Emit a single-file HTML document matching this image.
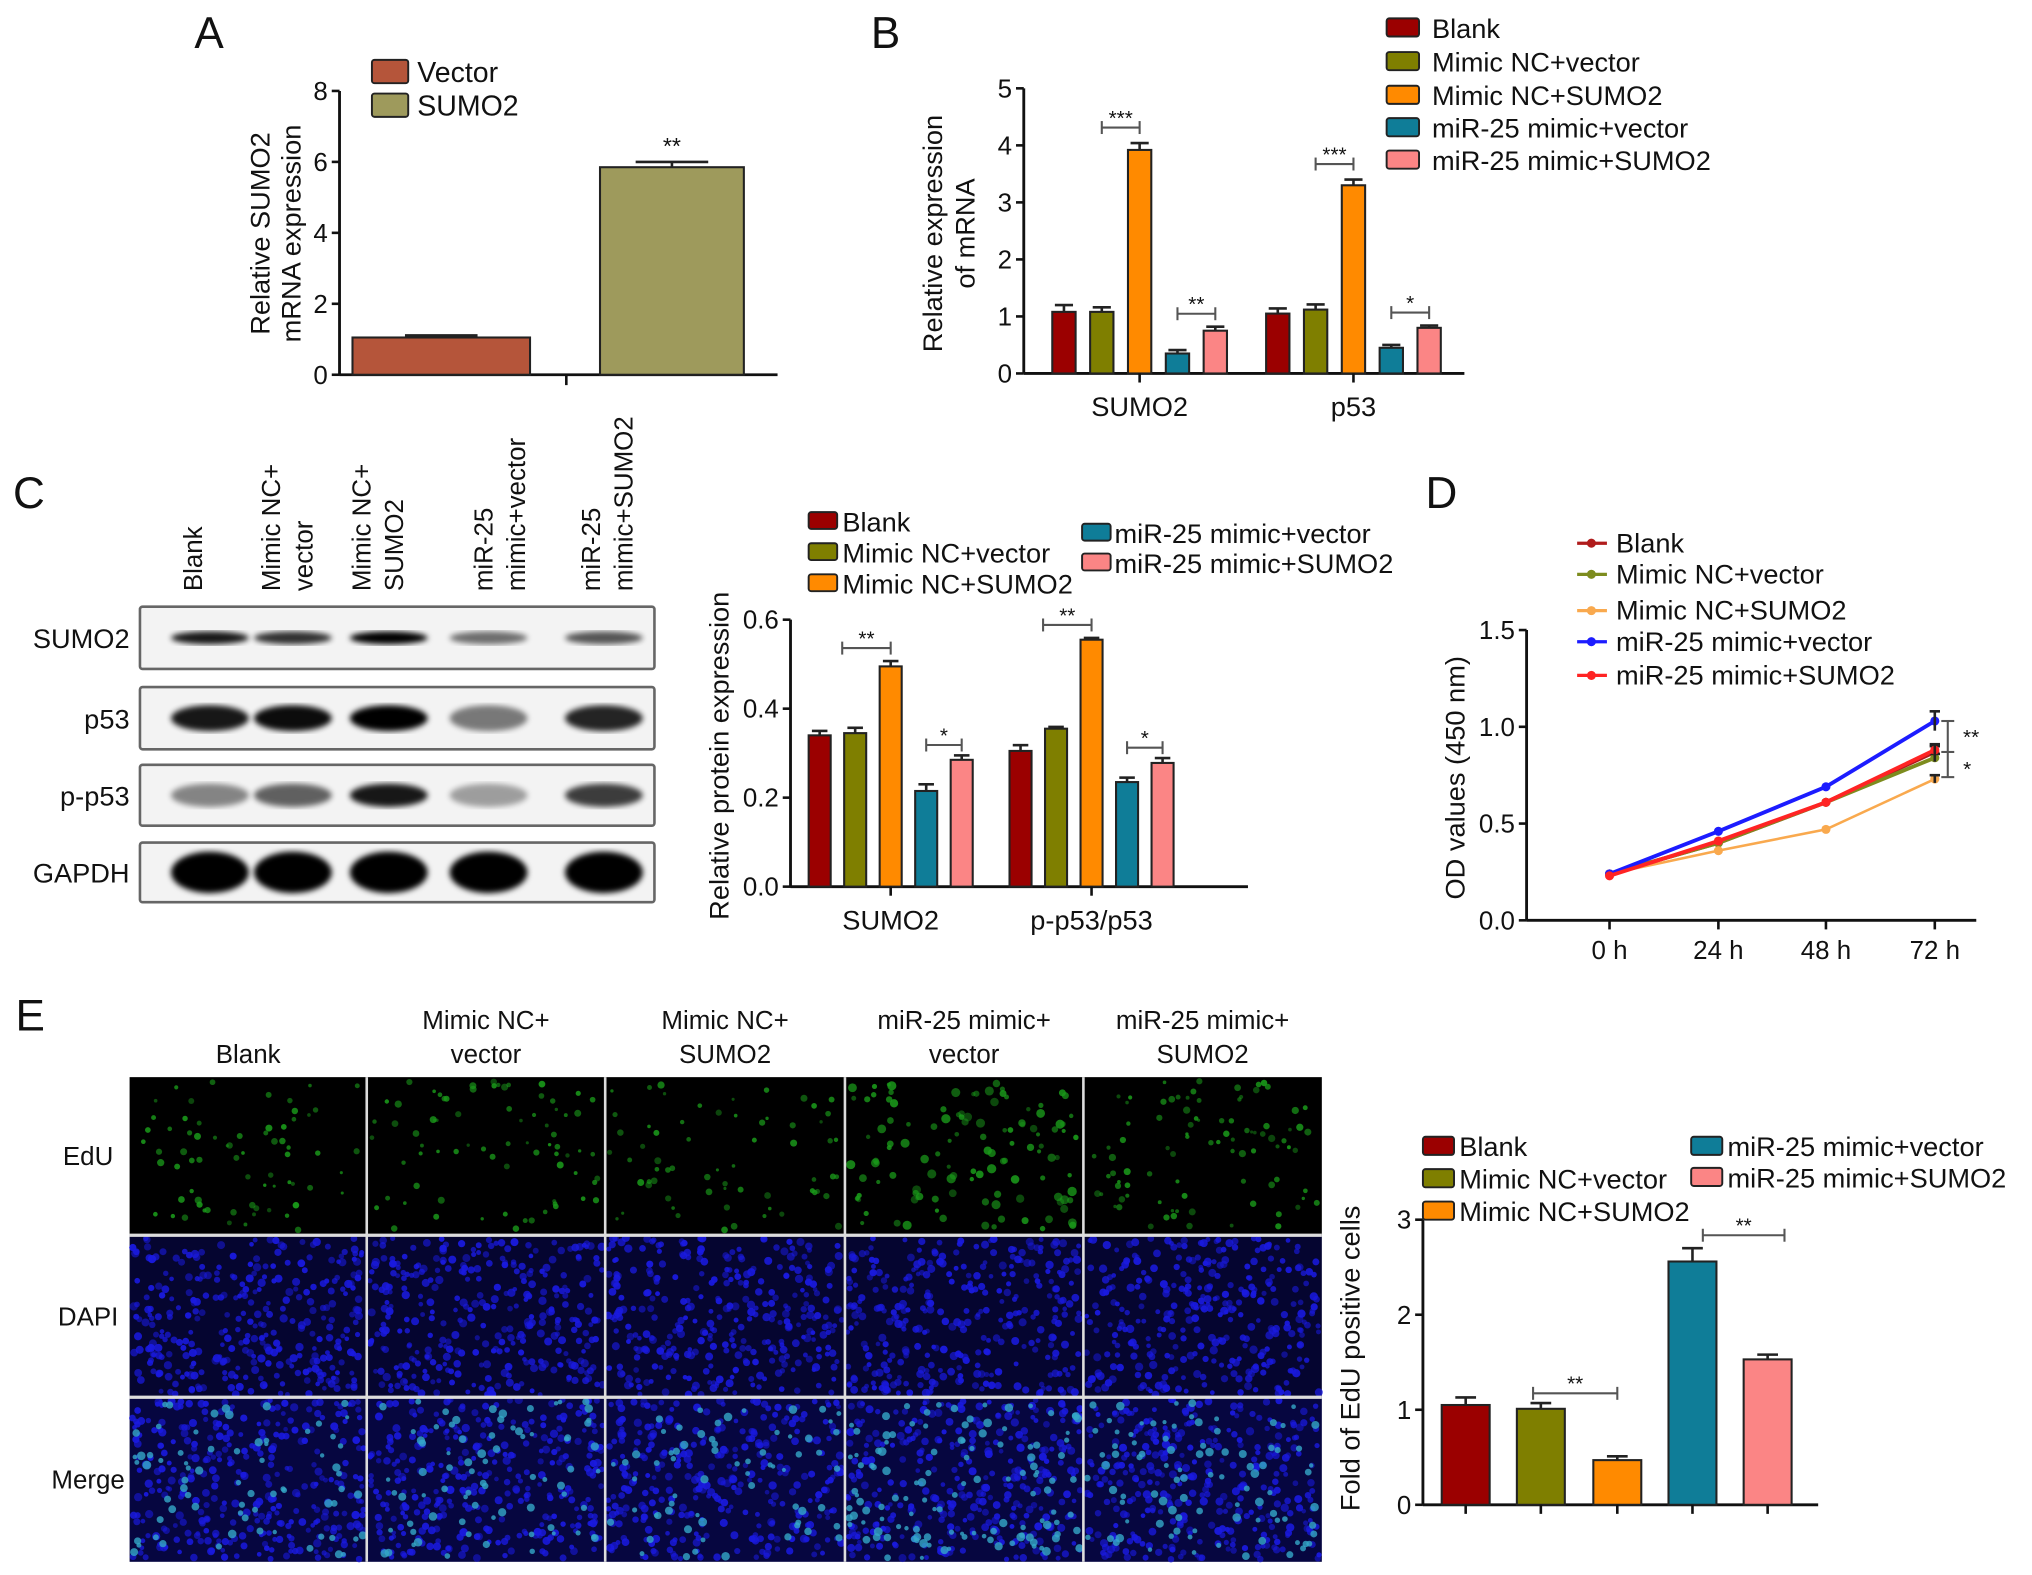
<!DOCTYPE html>
<html><head><meta charset="utf-8">
<style>
html,body{margin:0;padding:0;background:#fff;}
svg{display:block;}
text{font-family:"Liberation Sans",sans-serif;fill:#111;}
.n{font-family:"Liberation Sans Narrow","Liberation Sans",sans-serif;}
</style></head>
<body>
<svg id="fig" width="2032" height="1575" viewBox="0 0 1568 1215" xmlns="http://www.w3.org/2000/svg">
<g id="root"></g>
</svg>
<script>
// ---------- Data ----------
const groupsCommon = ['Blank','Mimic NC+vector','Mimic NC+SUMO2','miR-25 mimic+vector','miR-25 mimic+SUMO2'];
const barColors = ['#9b0000','#7f7f00','#ff8a00','#0f7d98','#fb8585'];

const aCats = ['Vector','SUMO2'];
const aVals = [1.05, 5.85];
const aErr = [0.06, 0.15];
const aTicks = [0,2,4,6,8];

const bCats = ['SUMO2','p53'];
const bSumo2 = [1.08, 1.08, 3.92, 0.35, 0.75];
const bP53 = [1.05, 1.12, 3.30, 0.45, 0.80];
const bErrS = [0.12, 0.08, 0.12, 0.06, 0.07];
const bErrP = [0.09, 0.09, 0.10, 0.05, 0.04];
const bTicks = [0,1,2,3,4,5];

const cCats = ['SUMO2','p-p53/p53'];
const cSumo2 = [0.340, 0.345, 0.495, 0.215, 0.285];
const cPp53 = [0.305, 0.355, 0.555, 0.235, 0.278];
const cErrS = [0.010, 0.012, 0.012, 0.015, 0.010];
const cErrP = [0.013, 0.004, 0.004, 0.010, 0.011];
const cTicks = [0.0,0.2,0.4,0.6];

const dTimes = ['0 h','24 h','48 h','72 h'];
const dBlank = [0.24, 0.40, 0.61, 0.87];
const dNCvec = [0.24, 0.40, 0.61, 0.84];
const dNCsumo = [0.24, 0.36, 0.47, 0.73];
const dMirVec = [0.24, 0.46, 0.69, 1.03];
const dMirSumo = [0.23, 0.41, 0.61, 0.88];
const dErr72 = [0.03, 0.02, 0.02, 0.05, 0.03];
const dTicks = [0.0,0.5,1.0,1.5];
const lineColors = ['#b01c1c','#7d8c1e','#f9a94e','#1c1cff','#ff2424'];

const eVals = [1.05, 1.01, 0.47, 2.56, 1.53];
const eErr = [0.08, 0.06, 0.04, 0.14, 0.05];
const eTicks = [0,1,2,3];

// ---------- Helpers ----------
const NS='http://www.w3.org/2000/svg';
const root=document.getElementById('root');
function mk(tag, attrs, parent){
  const el=document.createElementNS(NS,tag);
  for(const k in attrs) el.setAttribute(k,attrs[k]);
  (parent||root).appendChild(el);
  return el;
}
function txt(s,x,y,size,anchor,name,extra){
  const t=mk('text',Object.assign({x:x,y:y,'font-size':size,'text-anchor':anchor||'start'},extra||{}));
  t.textContent=s;
  
  
  return t;
}
function line(x1,y1,x2,y2,w,c,name){
  const l=mk('line',{x1:x1,y1:y1,x2:x2,y2:y2,stroke:c||'#111','stroke-width':w||2});
  
  
  return l;
}
function yAxis(x,y0,y1,vmax,ticks,fmt,size,name){
  const s=v=>y0-(v/vmax)*(y0-y1);
  line(x,y0,x,y1,2.2,'#111',name+'-y-axis');
  ticks.forEach(t=>{
    line(x-6,s(t),x,s(t),2,'#111',name+'-y-tick');
    txt(fmt(t),x-9,s(t)+7,size,'end',name+'-y-tick-label',{class:'n'});
  });
  return s;
}
function bar(x,w,y0,yv,c,name){
  const r=mk('rect',{x:x,y:yv,width:w,height:y0-yv,fill:c,stroke:'#222','stroke-width':1.6});
  
  
  return r;
}
function errbar(cx,yv,ye,hw,name){
  line(cx,yv,cx,ye,2,'#222',name);
  line(cx-hw,ye,cx+hw,ye,2,'#222',name+'-cap');
}
function sig(x1,x2,y,label,name){
  line(x1,y,x2,y,1.6,'#555',name+'-bracket');
  line(x1,y-5,x1,y+5,1.6,'#555',name+'-bracket-end');
  line(x2,y-5,x2,y+5,1.6,'#555',name+'-bracket-end');
  txt(label,(x1+x2)/2,y-2,16,'middle',name+'-stars',{fill:'#666'});
}
function swatch(x,y,w,h,c,name){
  const r=mk('rect',{x:x,y:y,width:w,height:h,fill:c,stroke:'#222','stroke-width':1.5,rx:2});
  
  
}
function letter(s,x,y){ txt(s,x,y,34,'start','panel-label-'+s); }

// ---------- Panel A ----------
letter('A',150,37);
(function(){
  const y0=289,y1=70,ax=262;
  const s=yAxis(ax,y0,y1,8,aTicks,v=>String(v),20,'panel-a');
  line(ax,y0,600,y0,2.2,'#111','panel-a-x-axis');
  line(437,y0,437,y0+8,2,'#111','panel-a-x-tick');
  const xs=[272,463], ws=[137,111], cols=['#b5553a','#9e9a5c'];
  aVals.forEach((v,i)=>{
    bar(xs[i],ws[i],y0,s(v),cols[i],'panel-a-bar-'+aCats[i].toLowerCase());
    errbar(xs[i]+ws[i]/2,s(v),s(v+aErr[i]),28,'panel-a-error-bar');
  });
  txt('**',xs[1]+ws[1]/2,s(aVals[1]+aErr[1])-6,18,'middle','panel-a-sig',{fill:'#777'});
  swatch(287,46,28,18,cols[0],'panel-a-legend-swatch-vector');
  txt('Vector',322,63,22,'start','panel-a-legend-vector',{class:'n'});
  swatch(287,72,28,18,cols[1],'panel-a-legend-swatch-sumo2');
  txt('SUMO2',322,89,22,'start','panel-a-legend-sumo2',{class:'n'});
  txt('Relative SUMO2',208,180,21,'middle','panel-a-y-title',{transform:'rotate(-90 208 180)'});
  txt('mRNA expression',232,180,21,'middle','panel-a-y-title-2',{transform:'rotate(-90 232 180)'});
})();

// ---------- Panel B ----------
letter('B',672,37);
(function(){
  const y0=288,y1=68,ax=790;
  const s=yAxis(ax,y0,y1,5,bTicks,v=>String(v),20,'panel-b');
  line(ax,y0,1130,y0,2.2,'#111','panel-b-x-axis');
  const starts=[812,977], step=29.2, w=18;
  [bSumo2,bP53].forEach((arr,g)=>{
    const errs=g?bErrP:bErrS;
    arr.forEach((v,i)=>{
      const x=starts[g]+i*step;
      bar(x,w,y0,s(v),barColors[i],'panel-b-bar-'+bCats[g].toLowerCase()+'-'+i);
      errbar(x+w/2,s(v),s(v+errs[i]),7,'panel-b-error-bar');
    });
    const cx=starts[g]+2*step+w/2;
    line(cx,y0,cx,y0+7,2,'#111','panel-b-x-tick');
    txt(bCats[g],cx,y0+33,21,'middle','panel-b-x-label-'+bCats[g].toLowerCase());
    const b1=starts[g]+step+w/2, b3=starts[g]+2*step+w/2, b4=starts[g]+3*step+w/2, b5=starts[g]+4*step+w/2;
    sig(b1,b3,s(arr[2]+errs[2])-12,'***','panel-b-sig-'+g+'-a');
    sig(b4,b5,s(arr[4]+errs[4])-10,g?'*':'**','panel-b-sig-'+g+'-b');
  });
  const ly=[22,48,74,99,124];
  groupsCommon.forEach((gname,i)=>{
    swatch(1070,ly[i]-8,25,14,barColors[i],'panel-b-legend-swatch');
    txt(gname,1105,ly[i]+7,21,'start','panel-b-legend-entry',{class:'n'});
  });
  txt('Relative expression',727,180,21,'middle','panel-b-y-title',{transform:'rotate(-90 727 180)'});
  txt('of mRNA',752,180,21,'middle','panel-b-y-title-2',{transform:'rotate(-90 752 180)'});
})();

// ---------- Panel C (blot) ----------
letter('C',10,392);
(function(){
  const heads=[['Blank'],['Mimic NC+','vector'],['Mimic NC+','SUMO2'],['miR-25','mimic+vector'],['miR-25','mimic+SUMO2']];
  const hx=[156,216,286,380,463];
  heads.forEach((h,i)=>{
    h.forEach((s,j)=>{
      const x=hx[i]+j*25;
      txt(s,x,456,20,'start','blot-lane-header',{transform:'rotate(-90 '+x+' 456)'});
    });
  });
  const rows=[['SUMO2',468,516],['p53',530,578],['p-p53',590,637],['GAPDH',650,696]];
  const lanes=[162,226,300,377,466];
  const dark={SUMO2:[0.9,0.8,1,0.55,0.65],p53:[0.9,0.95,1,0.5,0.85],'p-p53':[0.45,0.6,0.9,0.35,0.75],GAPDH:[1,1,1,1,1]};
  const bh={SUMO2:10,p53:20,'p-p53':18,GAPDH:32};
  const defs=mk('defs',{});
  const f=mk('filter',{id:'blur'},defs); mk('feGaussianBlur',{stdDeviation:2.2},f);
  rows.forEach(r=>{
    const b=mk('rect',{x:108,y:r[1],width:397,height:r[2]-r[1],fill:'#f3f3f3',stroke:'#666','stroke-width':2,rx:2});
    
    
    txt(r[0],100,(r[1]+r[2])/2+8,21,'end','blot-row-label',{class:'n'});
    lanes.forEach((cx,i)=>{
      const d=dark[r[0]][i];
      const e=mk('ellipse',{cx:cx,cy:(r[1]+r[2])/2,rx:30,ry:bh[r[0]]/2,fill:'#000',opacity:d,filter:'url(#blur)'});
      
      
    });
  });
})();

// ---------- Panel C (chart) ----------
(function(){
  const y0=684,y1=478,ax=610;
  const s=yAxis(ax,y0,y1,0.6,cTicks,v=>v.toFixed(1),20,'panel-c');
  line(ax,y0,963,y0,2.2,'#111','panel-c-x-axis');
  const starts=[624,779], step=27.4, w=17;
  [cSumo2,cPp53].forEach((arr,g)=>{
    const errs=g?cErrP:cErrS;
    arr.forEach((v,i)=>{
      const x=starts[g]+i*step;
      bar(x,w,y0,s(v),barColors[i],'panel-c-bar-'+g+'-'+i);
      errbar(x+w/2,s(v),s(v+errs[i]),6,'panel-c-error-bar');
    });
    const cx=starts[g]+2*step+w/2;
    line(cx,y0,cx,y0+7,2,'#111','panel-c-x-tick');
    txt(cCats[g],cx,y0+33,21,'middle','panel-c-x-label');
    const b1=starts[g]+step+w/2, b3=starts[g]+2*step+w/2, b4=starts[g]+3*step+w/2, b5=starts[g]+4*step+w/2;
    sig(b1-10,b3,s(arr[2]+errs[2])-10,'**','panel-c-sig-a');
    sig(b4,b5,s(arr[4]+errs[4])-8,'*','panel-c-sig-b');
  });
  const L=[[624,650,402,0],[624,650,426,1],[624,650,450,2],[835,860,411,3],[835,860,434,4]];
  L.forEach(l=>{
    swatch(l[0],l[2]-7,22,13,barColors[l[3]],'panel-c-legend-swatch');
    txt(groupsCommon[l[3]],l[1],l[2]+8,21,'start','panel-c-legend-entry',{class:'n'});
  });
  txt('Relative protein expression',562,583,21,'middle','panel-c-y-title',{transform:'rotate(-90 562 583)'});
})();

// ---------- Panel D ----------
letter('D',1100,392);
(function(){
  const y0=710,y1=486,ax=1178;
  const s=yAxis(ax,y0,y1,1.5,dTicks,v=>v.toFixed(1),20,'panel-d');
  line(ax,y0,1525,y0,2.2,'#111','panel-d-x-axis');
  const xs=[1242,1326,1409,1493];
  dTimes.forEach((t,i)=>{
    line(xs[i],y0,xs[i],y0+7,2,'#111','panel-d-x-tick');
    txt(t,xs[i],y0+30,20,'middle','panel-d-x-label');
  });
  const series=[dBlank,dNCvec,dNCsumo,dMirVec,dMirSumo];
  series.forEach((arr,k)=>{
    const p=mk('polyline',{points:arr.map((v,i)=>xs[i]+','+s(v)).join(' '),fill:'none',stroke:lineColors[k],'stroke-width':k===2?2:3});
    
    
    arr.forEach((v,i)=>{
      const c=mk('circle',{cx:xs[i],cy:s(v),r:3.5,fill:lineColors[k]});
      
      
    });
    errbar(xs[3],s(arr[3]-dErr72[k]),s(arr[3]+dErr72[k]),4,'panel-d-error-bar');
  });
  const bx=1503;
  line(bx,s(1.03),bx,s(0.74),1.6,'#555','panel-d-bracket');
  line(bx-5,s(1.03),bx+5,s(1.03),1.6,'#555','panel-d-bracket-cap');
  line(bx-5,s(0.87),bx+5,s(0.87),1.6,'#555','panel-d-bracket-cap');
  line(bx-5,s(0.74),bx+5,s(0.74),1.6,'#555','panel-d-bracket-cap');
  txt('**',1521,s(0.95)+6,16,'middle','panel-d-sig-a');
  txt('*',1518,s(0.8)+8,16,'middle','panel-d-sig-b');
  const ly=[419,443,471,495,521];
  groupsCommon.forEach((g,i)=>{
    line(1217,ly[i],1240,ly[i],2.5,lineColors[i],'panel-d-legend-line');
    const c=mk('circle',{cx:1228,cy:ly[i],r:3.5,fill:lineColors[i]});
    
    
    txt(g,1247,ly[i]+7,21,'start','panel-d-legend-entry',{class:'n'});
  });
  txt('OD values (450 nm)',1130,600,21,'middle','panel-d-y-title',{transform:'rotate(-90 1130 600)'});
})();

// ---------- Panel E (images) ----------
letter('E',12,795);
(function(){
  let seed=12345;
  const rnd=()=>{seed=(seed*1103515245+12345)%2147483648;return seed/2147483648;};
  const cx=[100,283,467,652,836,1020];
  const ry=[831,953,1078,1205];
  const heads=[['','Blank'],['Mimic NC+','vector'],['Mimic NC+','SUMO2'],['miR-25 mimic+','vector'],['miR-25 mimic+','SUMO2']];
  heads.forEach((h,i)=>{
    const x=(cx[i]+cx[i+1])/2;
    if(h[0]) txt(h[0],x,794,20,'middle','image-column-header');
    txt(h[1],x,820,20,'middle','image-column-header');
  });
  const rl=['EdU','DAPI','Merge'];
  rl.forEach((r,j)=>txt(r,68,(ry[j]+ry[j+1])/2+7,20,'middle','image-row-label'));
  const density=[70,75,65,120,90];
  for(let j=0;j<3;j++){
    for(let i=0;i<5;i++){
      const x=cx[i],y=ry[j],w=cx[i+1]-x,h=ry[j+1]-y;
      const bg=mk('rect',{x:x,y:y,width:w,height:h,fill:j===0?'#000':(j===1?'#050530':'#060640')});
      
      
      const g=mk('g',{});
      let pts='';
      if(j===0){
        for(let k=0;k<density[i];k++){
          const px=x+3+rnd()*(w-6),py=y+3+rnd()*(h-6),r=(1.2+rnd()*1.6)*(i===3?1.3:1);
          pts+='<circle cx="'+px.toFixed(1)+'" cy="'+py.toFixed(1)+'" r="'+r.toFixed(1)+'" fill="#1a9a1a" opacity="'+(0.45+rnd()*0.45).toFixed(2)+'"/>';
        }
      } else {
        for(let k=0;k<320;k++){
          const px=x+2+rnd()*(w-4),py=y+2+rnd()*(h-4);
          pts+='<circle cx="'+px.toFixed(1)+'" cy="'+py.toFixed(1)+'" r="'+(1.8+rnd()*1.4).toFixed(1)+'" fill="#1a1ae0" opacity="'+(0.5+rnd()*0.45).toFixed(2)+'"/>';
        }
        if(j===2){
          for(let k=0;k<density[i];k++){
            const px=x+3+rnd()*(w-6),py=y+3+rnd()*(h-6);
            pts+='<circle cx="'+px.toFixed(1)+'" cy="'+py.toFixed(1)+'" r="'+(1.6+rnd()*1.8).toFixed(1)+'" fill="#35a8c8" opacity="0.8"/>';
          }
        }
      }
      g.innerHTML=pts;
      
      
    }
  }
  for(let i=1;i<5;i++) line(cx[i],ry[0],cx[i],ry[3],2,'#ddd','image-grid-separator');
  for(let j=1;j<3;j++) line(cx[0],ry[j],cx[5],ry[j],2.5,'#ddd','image-grid-separator');
})();

// ---------- Panel E (chart) ----------
(function(){
  const y0=1161,y1=941,ax=1098;
  const s=yAxis(ax,y0,y1,3,eTicks,v=>String(v),20,'panel-e');
  line(ax,y0,1403,y0,2.2,'#111','panel-e-x-axis');
  const cxs=[1131,1189,1248,1306,1364], w=37;
  eVals.forEach((v,i)=>{
    bar(cxs[i]-w/2,w,y0,s(v),barColors[i],'panel-e-bar-'+i);
    errbar(cxs[i],s(v),s(v+eErr[i]),8,'panel-e-error-bar');
    line(cxs[i],y0,cxs[i],y0+7,2,'#111','panel-e-x-tick');
  });
  sig(cxs[1]-6,cxs[2],1075,'**','panel-e-sig-a');
  sig(cxs[3]+8,cxs[4]+13,953,'**','panel-e-sig-b');
  const L=[[1098,1126,884,0],[1098,1126,909,1],[1098,1126,934,2],[1305,1333,884,3],[1305,1333,908,4]];
  L.forEach(l=>{
    swatch(l[0],l[2]-7,24,14,barColors[l[3]],'panel-e-legend-swatch');
    txt(groupsCommon[l[3]],l[1],l[2]+8,21,'start','panel-e-legend-entry',{class:'n'});
  });
  txt('Fold of EdU positive cells',1049,1048,21,'middle','panel-e-y-title',{transform:'rotate(-90 1049 1048)'});
})();
</script>
</body></html>
